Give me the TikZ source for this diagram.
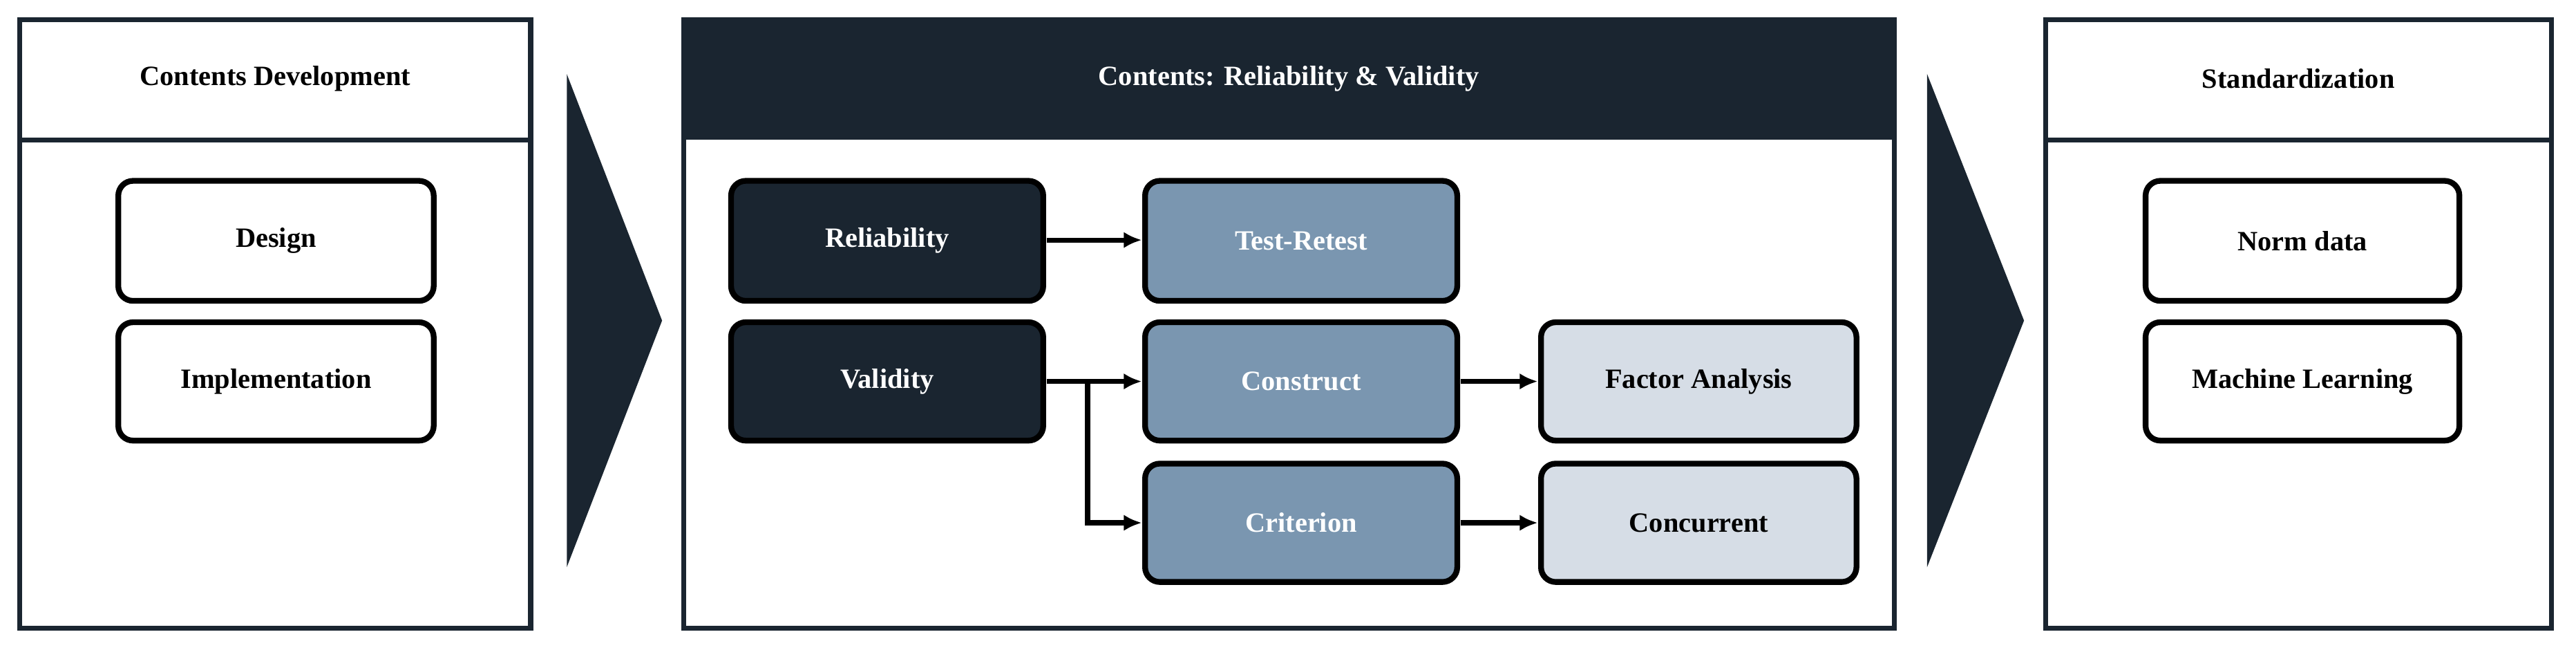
\documentclass[tikz,border=0pt]{standalone}
\usepackage{fontspec}
\setmainfont{Liberation Serif}
\definecolor{navy}{HTML}{1A2530}
\definecolor{steel}{HTML}{7A96B0}
\definecolor{pale}{HTML}{D6DDE6}
\begin{document}
\begin{tikzpicture}[x=1pt,y=-1pt,
  panel/.style={draw=navy,line width=3pt},
  box/.style={draw=black,line width=3.5pt,rounded corners=9pt,font=\fontsize{17}{20}\selectfont\bfseries},
  dk/.style={box,fill=navy,text=white},
  md/.style={box,fill=steel,text=white},
  lt/.style={box,fill=pale,text=black},
  wt/.style={box,fill=white,text=black},
  ar/.style={line width=3pt,-{Latex[length=11pt,width=10pt]}},
  hd/.style={font=\fontsize{17}{20}\selectfont\bfseries}]
\usetikzlibrary{arrows.meta}
\useasboundingbox (0,0) rectangle (1568,395);
% left panel
\draw[panel] (12,12) rectangle (323,382);
\draw[panel] (12,85) -- (323,85);
\node[hd] (h1) at (167.5,48) {Contents Development};
\draw[wt] (72,110) rectangle node (design) {Design} (264,183);
\draw[wt] (72,196) rectangle node (impl) {Implementation} (264,268);
% chevrons
\fill[navy] (345,45) -- (403,195) -- (345,345) -- cycle;
\fill[navy] (1173,45) -- (1232,195) -- (1173,345) -- cycle;
% middle panel
\fill[navy] (416,12) rectangle (1153,85);
\draw[panel] (416,12) rectangle (1153,382);
\node[hd,text=white] (h2) at (784.5,48) {Contents: Reliability \& Validity};
\draw[dk] (445,110) rectangle node (rel) {} (635,183);
\node[hd,text=white] at (rel) {Reliability};
\draw[md] (697,110) rectangle node (tr) {} (887,183);
\node[hd,text=white] at (tr) {Test-Retest};
\draw[dk] (445,196) rectangle node (val) {} (635,268);
\node[hd,text=white] at (val) {Validity};
\draw[md] (697,196) rectangle node (con) {} (887,268);
\node[hd,text=white] at (con) {Construct};
\draw[md] (697,282) rectangle node (cri) {} (887,354);
\node[hd,text=white] at (cri) {Criterion};
\draw[lt] (938,196) rectangle node (fa) {} (1130,268);
\node[hd] at (fa) {Factor Analysis};
\draw[lt] (938,282) rectangle node (cc) {} (1130,354);
\node[hd] at (cc) {Concurrent};
\coordinate (relE) at (637,146); \coordinate (trW) at (695,146);
\coordinate (valE) at (637,232); \coordinate (conW) at (695,232);
\coordinate (br) at (662,232); \coordinate (criW) at (695,318);
\coordinate (conE) at (889,232); \coordinate (faW) at (936,232);
\coordinate (criE) at (889,318); \coordinate (ccW) at (936,318);
\draw[ar] (relE) -- (trW);
\draw[ar] (valE) -- (conW);
\draw[ar] (br) |- (criW);
\draw[ar] (conE) -- (faW);
\draw[ar] (criE) -- (ccW);
% right panel
\draw[panel] (1245,12) rectangle (1553,382);
\draw[panel] (1245,85) -- (1553,85);
\node[hd] (h3) at (1399,48) {Standardization};
\draw[wt] (1306,110) rectangle node (norm) {Norm data} (1497,183);
\draw[wt] (1306,196) rectangle node (ml) {Machine Learning} (1497,268);
\end{tikzpicture}
\end{document}
